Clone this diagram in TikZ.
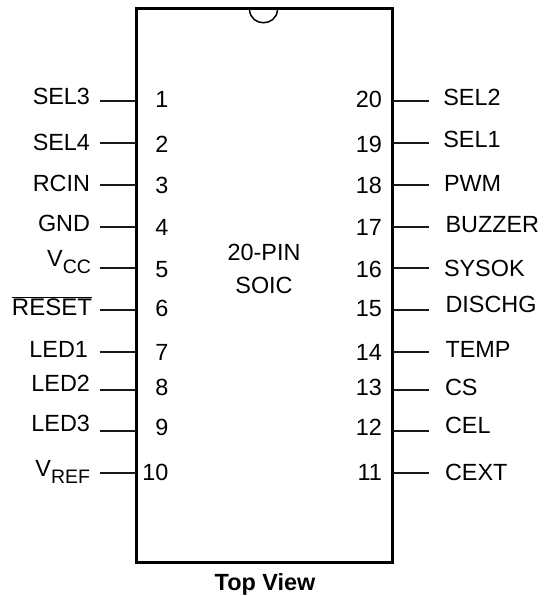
\documentclass[tikz,border=0pt]{standalone}
\usepackage{fontspec}
\setmainfont{Liberation Sans}
\newcommand{\subtxt}[1]{\raisebox{-6.5pt}{\fontsize{19.5pt}{22pt}\selectfont #1}}
\begin{document}
\begin{tikzpicture}[x=1pt,y=-1pt,
  lbl/.style={inner sep=0pt,outer sep=0pt,font=\fontsize{23.4pt}{27pt}\selectfont},
  lname/.style={lbl,anchor=base east},
  rname/.style={lbl,anchor=base west},
  num/.style={lbl,anchor=base east},
  pinline/.style={line width=1.3pt,black!90},
  chip/.style={draw,line width=3.3pt,minimum width=256pt,minimum height=554.2pt,inner sep=0pt,outer sep=0pt,anchor=north west}]
\useasboundingbox (0,0) rectangle (543,596);
\node[chip] (ic) at (136.5,8.5) {};
\coordinate (n1) at (249.5,10);
\coordinate (n2) at (277.5,10);
\draw[line width=1.5pt] (n1) .. controls (251,27) and (276,27) .. (n2);
% left pins
\foreach \n/\y/\ny in {1/101/107.7,2/143/152.7,3/185/193.3,4/227/235,5/268/277.7,6/310/316.7,7/352/360,8/390/395.7,9/431/435,10/473/480}{
  \coordinate (lp\n) at (99.5,\y);
  \coordinate (lb\n) at (136,\y);
  \draw[pinline] (lp\n) -- (lb\n);
  \node[num] (ln\n) at (168.5,\ny) {\n};
}
% right pins
\foreach \n/\y/\ny in {20/101/107.7,19/143/152.7,18/185/193.3,17/227/235,16/268/277.7,15/310/316,14/352/360,13/390/395,12/431/435,11/473/480}{
  \coordinate (rp\n) at (428.5,\y);
  \coordinate (rb\n) at (393,\y);
  \draw[pinline] (rb\n) -- (rp\n);
  \node[num] (rn\n) at (382,\ny) {\n};
}
% left names
\node[lname] (sel3) at (90,105) {SEL3};
\node[lname] (sel4) at (90,150.6) {SEL4};
\node[lname] (rcin) at (90,191) {RCIN};
\node[lname] (gnd) at (90,231.7) {GND};
\node[lname] (vcc) at (91,266.7) {V\subtxt{CC}};
\node[lname] (reset) at (92,315.7) {\fontsize{24pt}{27pt}\selectfont$\overline{\mbox{RESET}}$};
\node[lname] (led1) at (88,357.7) {LED1};
\node[lname] (led2) at (90,391.7) {LED2};
\node[lname] (led3) at (90,431.7) {LED3};
\node[lname] (vref) at (90,476.7) {V\subtxt{REF}};
% right names
\node[rname] (sel2) at (443.3,105.7) {SEL2};
\node[rname] (sel1) at (443.3,148) {SEL1};
\node[rname] (pwm) at (444,191.7) {PWM};
\node[rname] (buzzer) at (445.5,232.7) {BUZZER};
\node[rname] (sysok) at (444,276.7) {SYSOK};
\node[rname] (dischg) at (445.5,312.7) {DISCHG};
\node[rname] (temp) at (445.5,357.7) {TEMP};
\node[rname] (cs) at (445,395) {CS};
\node[rname] (cel) at (445,433) {CEL};
\node[rname] (cext) at (445,480) {CEXT};
% centre
\node[lbl,anchor=base] (pin) at (264,260) {20-PIN};
\node[lbl,anchor=base] (soic) at (264,293) {SOIC};
\node[lbl,anchor=base,font=\fontsize{23.4pt}{27pt}\selectfont\bfseries] (top) at (265,590) {Top View};
\end{tikzpicture}
\end{document}
